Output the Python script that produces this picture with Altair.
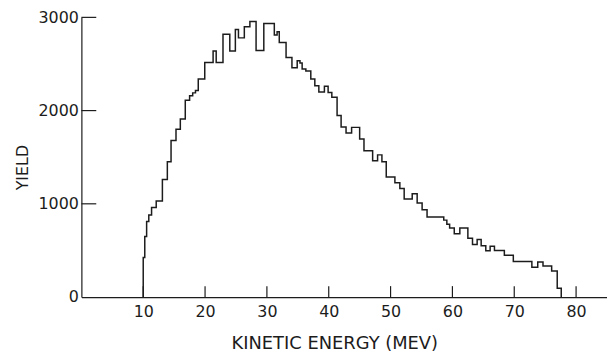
import altair as alt
import pandas as pd

# Histogram: left edge of each step (MeV) and the yield of that step
bin_left = [10.0, 10.25, 10.55, 10.9, 11.35, 12.1, 13.1, 13.9, 14.5, 15.3,
            16.0, 16.8, 17.5, 18.0, 18.45, 18.9, 19.95, 21.3, 21.8, 22.9,
            24.0, 24.9, 25.4, 26.35, 27.25, 28.25, 29.5, 31.2, 31.65, 32.0,
            33.1, 34.05, 34.9, 35.35, 35.7, 36.3, 37.1, 37.75, 38.4, 39.3,
            39.9, 40.5, 41.35, 42.0, 42.8, 43.7, 45.0, 45.7, 47.1, 47.9,
            48.6, 49.3, 50.7, 51.5, 52.2, 53.5, 54.3, 55.1, 55.9, 58.6,
            59.1, 59.55, 60.3, 61.2, 62.5, 63.25, 64.0, 64.65, 65.4, 66.1,
            66.8, 68.4, 69.85, 72.85, 73.8, 74.65, 76.05, 76.95]
yields = [425, 650, 810, 880, 960, 1030, 1260, 1450, 1680, 1800,
          1910, 2110, 2160, 2190, 2215, 2340, 2515, 2640, 2515, 2820,
          2640, 2870, 2780, 2900, 2955, 2645, 2935, 2810, 2845, 2730,
          2570, 2460, 2535, 2510, 2445, 2425, 2340, 2266, 2200, 2260,
          2195, 2142, 1947, 1823, 1759, 1820, 1695, 1570, 1461, 1525,
          1450, 1287, 1227, 1163, 1052, 1107, 1008, 936, 859, 825,
          780, 741, 680, 741, 630, 564, 617, 550, 497, 546,
          500, 447, 380, 320, 376, 333, 280, 93]
end_edge = 77.6

x_ticks = [10, 20, 30, 40, 50, 60, 70, 80]
y_ticks = [0, 1000, 2000, 3000]
y_tick_marks = [1000, 2000, 3000]

xs = [bin_left[0]] + bin_left + [end_edge]
ys = [0] + yields + [0]
hist = pd.DataFrame({"energy": xs, "yield": ys, "order": list(range(len(xs)))})

INK = "#1c1c1c"
FONT = "DejaVu Sans"

xscale = alt.Scale(domain=[0, 85], nice=False, zero=False)
yscale = alt.Scale(domain=[0, 3000], nice=False)

x_axis = alt.Axis(
    values=x_ticks, format="d", title="KINETIC ENERGY (MEV)",
    grid=False, ticks=False, tickSize=0, domainColor=INK, domainWidth=1.2,
    labelFont=FONT, labelFontSize=16, labelColor=INK, labelPadding=7,
    labelFlush=False, labelOverlap=False,
    titleFont=FONT, titleFontSize=18, titleFontWeight="normal", titleColor=INK,
    titleX=255, titleY=52, titleAlign="center", titleBaseline="alphabetic")
y_axis = alt.Axis(
    values=y_ticks, format="d", title="YIELD",
    grid=False, ticks=False, tickSize=0, domainColor=INK, domainWidth=1.2,
    labelFont=FONT, labelFontSize=16, labelColor=INK, labelPadding=3,
    labelFlush=False, labelOverlap=False,
    titleFont=FONT, titleFontSize=16, titleFontWeight="normal", titleColor=INK,
    titleAngle=270, titleX=-59, titleY=151, titleAlign="center",
    titleBaseline="middle")

line = alt.Chart(hist).mark_line(
    interpolate="step-after", color=INK, strokeWidth=1.5
).encode(
    x=alt.X("energy:Q", scale=xscale, axis=x_axis),
    y=alt.Y("yield:Q", scale=yscale, axis=y_axis),
    order="order:Q",
)

ytick_rules = alt.Chart(pd.DataFrame({"yield": y_tick_marks})).mark_rule(
    color=INK, strokeWidth=1.2
).encode(
    y=alt.Y("yield:Q", scale=yscale, axis=y_axis),
    x=alt.value(0), x2=alt.value(15),
)

xtick_rules = alt.Chart(pd.DataFrame({"energy": x_ticks})).mark_rule(
    color=INK, strokeWidth=1.2
).encode(
    x=alt.X("energy:Q", scale=xscale, axis=x_axis),
    y=alt.value(282), y2=alt.value(271),
)

chart = alt.layer(line, ytick_rules, xtick_rules).properties(
    width=530, height=282,
    autosize=alt.AutoSizeParams(type="none"),
    padding={"left": 74, "top": 8, "right": 0, "bottom": 57},
    background="white",
).configure_view(stroke=None)

chart.save("out.html", embed_options={"renderer": "svg", "actions": False})
